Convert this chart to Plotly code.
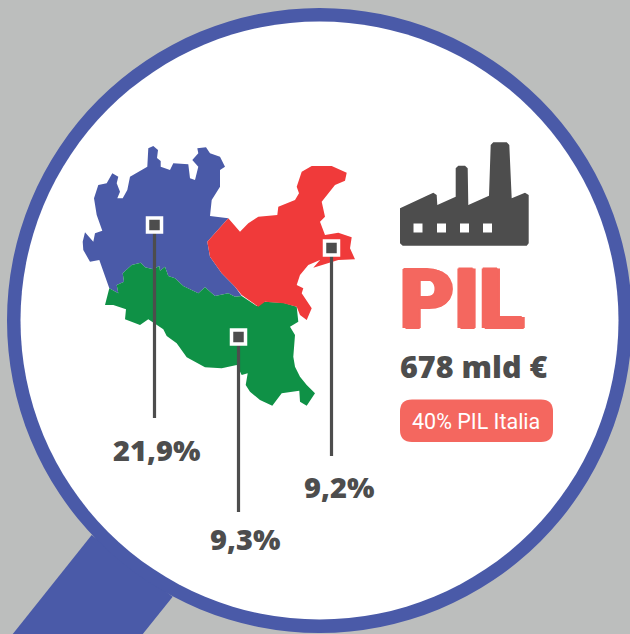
import plotly.graph_objects as go

# Data
regions = ["Lombardia", "Veneto", "Emilia-Romagna"]
shares = ["21,9%", "9,2%", "9,3%"]
gdp_total = "678 mld €"
gdp_share = "40% PIL Italia"
title = "PIL"

BG = "#bcbebd"; BLUE = "#4a5aa8"; RED = "#f03a3a"; GREEN = "#0f9146"; DARK = "#4d4d4d"; CORAL = "#f4675f"

north_green = [(241.7,296),(235,296.7),(228.3,293.3),(215,296),(205,287.3),(198.3,293.3),(183.3,286),(175,278.3),(168.3,276),(165,266.7),(160,270.7),(159.3,266),(153.3,269.3),(145,267.3),(140.7,262.7),(131.7,265),(122.7,273.3),(124,281.7),(116.7,285),(118.3,293.3),(109.3,288.3)]
lombardia = [(148.3,148.3),(153.3,146),(158,150),(157,158),(160.7,161),(160.7,166.7),(170,170),(173.3,163.3),(188.3,164.3),(190,178.3),(195,180),(198.3,166.7),(192.3,160),(198.3,153.3),(197.3,148.3),(206,147.3),(210,153.3),(220,156.7),(225,166.7),(220,170),(220,186.7),(211.7,200),(210,216),(228.3,218.3),(207.3,241.7),(210,256.7),(221.7,273.3),(235,286.7)] + north_green + [(103.3,270),(99.3,260),(90,261.7),(83.3,250),(82.7,241.7),(85,232.3),(93.3,241.7),(95,233.3),(102.3,230.7),(96.7,215),(94,198.3),(98.3,185),(106.7,183.3),(112.3,173.3),(118.3,176.7),(116.7,183.3),(120,191.7),(117.3,198.3),(122.7,198.3),(127.3,190),(130,176.7),(147.3,166.7)]
veneto = [(228.3,218.3),(240,231.7),(248.3,223.3),(258.3,216.7),(277.3,215),(278.3,206.7),(295,200),(299,193.3),(296.7,186.7),(301.7,171.7),(311.7,166),(331.7,166),(346.7,172.7),(345,180.7),(335,185),(321.7,201.7),(325,216.7),(320,221.7),(325,235),(338.3,232.7),(351.7,237.3),(350,248.3),(355,259.3),(338.3,260),(313.3,267.7),(320,260),(308.3,265),(300,275),(296.7,285),(303.3,288.3),(301.7,293.3),(311.7,308.3),(306.7,320),(300,315),(296.7,306.7),(283.3,303.3),(265,301.7),(258.3,306.7),(241.7,295),(235,286.7),(221.7,273.3),(210,256.7),(207.3,241.7)]
emilia = north_green[::-1] + [(241.7,296),(256.7,306),(263.3,301.7),(283.3,302.7),(296.7,306.7),(298.3,321.7),(290,326.7),(295,335),(293.3,356.7),(295,366.7),(300,376.7),(306.7,385),(315,393.3),(306.7,405.7),(300,401.7),(299.3,390.7),(281.7,393.3),(272.3,405.7),(260,400),(250,391.7),(245.7,385),(247.7,373.3),(241.7,375),(236.7,365),(221.7,368.3),(205,367.3),(186.7,357.3),(176.7,343.3),(166.7,336),(163.3,329.3),(148.3,319.3),(140,325),(125,319.3),(126,309.3),(113.3,305),(105,305)]
factory = [(400,208.3),(433.3,192.7),(436.7,195),(437.3,205),(455.7,196.7),(455.7,168.3),(458.3,165.7),(465,165.7),(467.7,168.3),(468.3,205),(489,195.7),(490.7,145),(493.3,142.3),(506.7,142.3),(509.3,145),(511.7,198.3),(525,192.7),(528.7,195),(528.7,243.3),(526.7,245.7),(402.7,245.7),(400,243.3)]
window_x = [418, 441.5, 464.5, 487.5]
window_y = [228, 228, 228, 228]
handle = [(91.7,535),(8,640),(138,640),(172.7,596.7)]
pin_x = [154.5, 331.5, 238.5]
pin_top = [225, 248, 337]
pin_bottom = [418, 456, 512]
label_x = [156.5, 339, 245]
label_y = [449, 486, 538]

fig = go.Figure()
def poly(pts, color):
    fig.add_trace(go.Scatter(x=[p[0] for p in pts]+[pts[0][0]], y=[p[1] for p in pts]+[pts[0][1]],
                             mode="lines", fill="toself", fillcolor=color, line=dict(width=0, color=color), hoverinfo="skip"))
poly(lombardia, BLUE); poly(emilia, GREEN); poly(veneto, RED); poly(factory, DARK)
fig.add_trace(go.Scatter(x=window_x, y=window_y, mode="markers", marker=dict(symbol="square", size=9, color="white", line=dict(width=0)), hoverinfo="skip"))
for x, t, b in zip(pin_x, pin_top, pin_bottom):
    fig.add_trace(go.Scatter(x=[x, x], y=[t, b], mode="lines", line=dict(color=DARK, width=3.2), hoverinfo="skip"))
fig.add_trace(go.Scatter(x=pin_x, y=pin_top, mode="markers", marker=dict(symbol="square", size=14, color=DARK, line=dict(color="white", width=3.5)), hoverinfo="skip"))

shapes = [
    dict(type="path", layer="below", path="M"+" L".join(f"{x},{y}" for x, y in handle)+" Z", fillcolor=BLUE, line_width=0),
    dict(type="circle", layer="below", x0=7, x1=632, y0=8, y1=633, fillcolor=BLUE, line_width=0),
    dict(type="circle", layer="below", x0=20.5, x1=618.5, y0=21.5, y1=619.5, fillcolor="white", line_width=0),
    dict(type="path", layer="below", fillcolor=CORAL, line_width=0,
         path="M412,399.5 L541,399.5 Q553,399.5 553,411.5 L553,430 Q553,442 541,442 L412,442 Q400,442 400,430 L400,411.5 Q400,399.5 412,399.5 Z"),
]
def txt(x, y, s, size, color, family="Open Sans", weight=700, shadow=None):
    f = dict(family=family, size=size, color=color, weight=weight)
    if shadow:
        f["shadow"] = shadow
    return dict(x=x, y=y, text=s, showarrow=False, xanchor="center", yanchor="middle", font=f)
ann = [txt(x, y, s, 29, DARK, "Open Sans", 800) for x, y, s in zip(label_x, label_y, shares)]
ann += [txt(462, 299, title, 83, CORAL, "Roboto", 900, "2px 0 0 #f4675f, -2px 0 0 #f4675f, 1px 1px 0 #f4675f, -1px -1px 0 #f4675f"),
        txt(473, 366, gdp_total, 30.5, DARK, "Open Sans", 800),
        txt(476, 421, gdp_share, 21.5, "white", "Roboto", 400)]

fig.update_layout(width=630, height=634, margin=dict(l=0, r=0, t=0, b=0), paper_bgcolor=BG, plot_bgcolor=BG,
                  showlegend=False, shapes=shapes, annotations=ann,
                  xaxis=dict(range=[0, 630], visible=False, fixedrange=True),
                  yaxis=dict(range=[634, 0], visible=False, fixedrange=True))
fig.write_html("out.html", config=dict(displayModeBar=False), post_script="document.body.style.margin='0';document.body.style.overflow='hidden';")
